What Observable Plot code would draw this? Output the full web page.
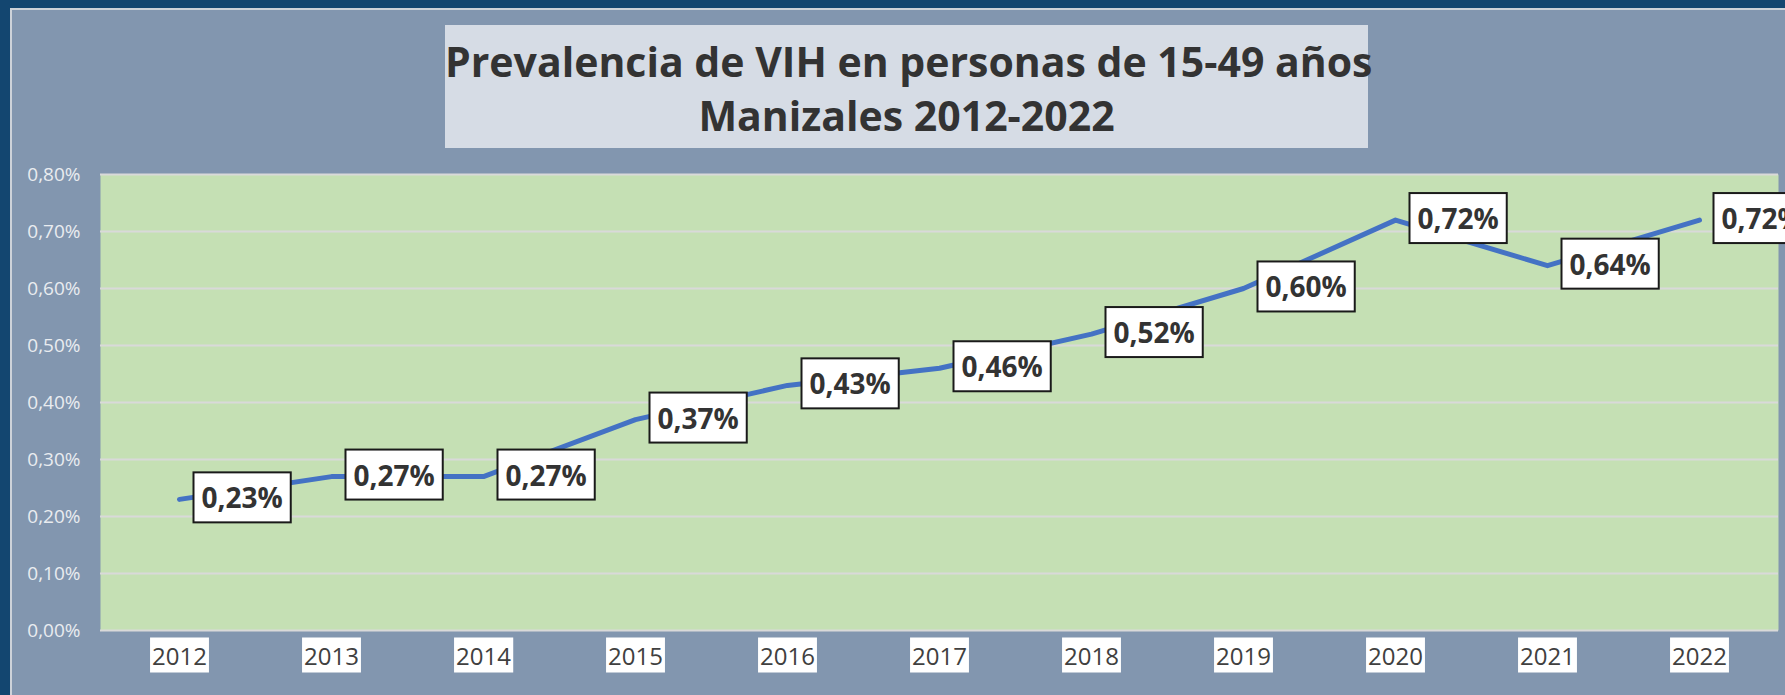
<!DOCTYPE html>
<html><head><meta charset="utf-8">
<script src="https://cdn.jsdelivr.net/npm/d3@7"></script>
<script src="https://cdn.jsdelivr.net/npm/@observablehq/plot@0.6"></script>
<style>
html,body{margin:0;padding:0;width:1785px;height:695px;overflow:hidden;background:#134670;}
#panel{position:absolute;left:10px;top:8px;width:1800px;height:720px;background:#8296af;border:2px solid #cdd2d9;box-sizing:border-box}
#title{position:absolute;left:445px;top:25px;width:923px;height:123px;background:#d6dce5;color:#333;font-family:"Open Sans",sans-serif;font-weight:700;font-size:41px;line-height:54px;text-align:center;box-sizing:border-box;padding-top:9px;white-space:nowrap}
#chart{position:absolute;left:0;top:150px}
</style></head><body>
<div id="panel"></div>
<div id="title">Prevalencia de VIH en personas de 15-49 años<br>Manizales 2012-2022</div>
<div id="chart"></div>
<script>
const years = ["2012","2013","2014","2015","2016","2017","2018","2019","2020","2021","2022"];
const prevalence = [0.23,0.27,0.27,0.37,0.43,0.46,0.52,0.60,0.72,0.64,0.72];
const yTicks = [0,0.1,0.2,0.3,0.4,0.5,0.6,0.7,0.8];
const data = years.map((y,i)=>({year:y, value:prevalence[i]}));
const fmt = d => d.toFixed(2).replace(".", ",") + "%";

const chart = Plot.plot({
  width:1785, height:545, marginTop:24, marginBottom:65, marginLeft:100, marginRight:7,
  style:{background:"transparent", fontFamily:"'Open Sans', sans-serif", overflow:"visible"},
  x:{type:"point", domain:years, padding:0.5, axis:null},
  y:{domain:[0,0.8], axis:null},
  marks:[
    Plot.frame({fill:"#c5e0b4", stroke:null}),
    Plot.ruleY(yTicks,{stroke:"#d9d9d9", strokeWidth:2}),
    Plot.axisY({ticks:yTicks, tickSize:0, tickPadding:20, tickFormat:fmt, fontSize:19, color:"#e9ecf0", label:null}),
    Plot.line(data,{x:"year", y:"value", stroke:"#4472c4", strokeWidth:5}),
    Plot.text(years,{x:d=>d, frameAnchor:"bottom", dy:34, fontSize:24, fill:"#404040"}),
    Plot.text(data,{x:"year", y:"value", text:d=>fmt(d.value), dx:22, textAnchor:"start", fontSize:28, fontWeight:700, fill:"#333"})
  ]
});
document.getElementById("chart").append(chart);

const textGroups = chart.querySelectorAll('g[aria-label="text"]');
function boxes(group, padX, padY, fill, stroke, sw){
  if (!group) return;
  group.querySelectorAll("text").forEach(t=>{
    const b = t.getBBox();
    const r = document.createElementNS("http://www.w3.org/2000/svg","rect");
    r.setAttribute("x", b.x - padX);
    r.setAttribute("y", b.y - padY);
    r.setAttribute("width", b.width + 2*padX);
    r.setAttribute("height", b.height + 2*padY);
    r.setAttribute("fill", fill);
    if (stroke) { r.setAttribute("stroke", stroke); r.setAttribute("stroke-width", sw); }
    const tr = t.getAttribute("transform");
    if (tr) r.setAttribute("transform", tr);
    t.parentNode.insertBefore(r, t);
  });
}
boxes(textGroups[0], 2, 1, "#ffffff", null, 0);
boxes(textGroups[1], 8, 6, "#ffffff", "#1a1a1a", 2);
</script>
</body></html>
